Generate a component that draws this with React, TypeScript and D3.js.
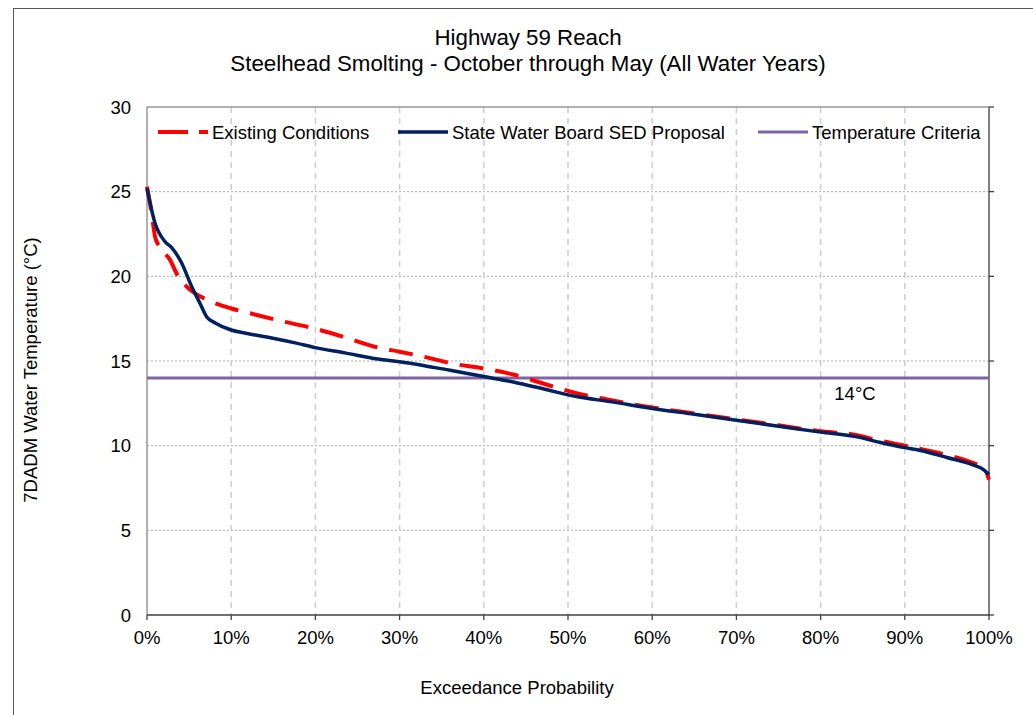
import React from "react";
import * as d3 from "d3";

const titleLines = ["Highway 59 Reach", "Steelhead Smolting - October through May (All Water Years)"];
const xTicks = [0, 10, 20, 30, 40, 50, 60, 70, 80, 90, 100];
const yTicks = [0, 5, 10, 15, 20, 25, 30];
const criteria = 14;

const sedX = [0, 0.95, 2.14, 2.93, 4.1, 5.3, 6.3, 7.1, 8.1, 10, 11.6, 14.8, 17.6, 20, 23.5, 27.4, 30, 32.8, 36, 40, 43.5, 47.5, 51, 55, 60, 65, 70, 75, 80, 84, 87, 89.8, 92, 95, 98.1, 99.3, 100];
const sedY = [25.2, 23.15, 22.05, 21.7, 20.8, 19.4, 18.4, 17.6, 17.25, 16.83, 16.65, 16.36, 16.07, 15.79, 15.48, 15.12, 14.96, 14.74, 14.45, 14.08, 13.76, 13.3, 12.9, 12.6, 12.2, 11.85, 11.5, 11.15, 10.8, 10.55, 10.2, 9.9, 9.7, 9.3, 8.86, 8.6, 8.3];

const exX = [0, 0.56, 0.95, 1.54, 2.7, 3.7, 4.9, 7.2, 10, 11.6, 15.6, 20, 23.5, 27.4, 30, 32.8, 36.8, 39.5, 43.5, 47.5, 51, 55, 60, 65, 70, 75, 80, 84, 87, 90, 95, 98, 99.5, 100];
const exY = [25.3, 23.7, 22.35, 21.7, 21.0, 20.0, 19.3, 18.6, 18.1, 17.9, 17.4, 16.9, 16.4, 15.8, 15.55, 15.26, 14.8, 14.6, 14.2, 13.6, 13.1, 12.7, 12.25, 11.9, 11.55, 11.2, 10.85, 10.65, 10.3, 10.0, 9.45, 9.0, 8.6, 8.0];

const legendItems = ["Existing Conditions", "State Water Board SED Proposal", "Temperature Criteria"];

const W = 1033, H = 715;
const L = 147, R = 989, T = 107, B = 615;
const FONT = "'Liberation Sans', Arial, sans-serif";
const FS = 18.5;

export default function App() {
  const x = d3.scaleLinear().domain([0, 100]).range([L, R]);
  const y = d3.scaleLinear().domain([0, 30]).range([B, T]);
  const line = d3.line<[number, number]>().x(d => x(d[0])).y(d => y(d[1])).curve(d3.curveMonotoneX);
  const sed: [number, number][] = sedX.map((v, i) => [v, sedY[i]]);
  const ex: [number, number][] = exX.map((v, i) => [v, exY[i]]);

  const legendX = [158, 398, 758];
  const legendY = 132;

  return (
    <svg width={W} height={H} style={{ position: "absolute", left: 0, top: 0 }} fontFamily={FONT}>
      <rect x={0} y={0} width={W} height={H} fill="#fff" />
      <rect x={13.5} y={8.5} width={W + 20} height={H + 20} fill="none" stroke="#595959" strokeWidth={1} />
      {titleLines.map((t, i) => (
        <text key={i} x={528} y={45 + i * 26} textAnchor="middle" fontSize={22.3} fill="#000">{t}</text>
      ))}
      {/* gridlines */}
      {yTicks.filter(v => v > 0 && v < 30).map(v => (
        <line key={"gy" + v} x1={L} x2={R} y1={y(v)} y2={y(v)} stroke="#a6a6a6" strokeWidth={1} strokeDasharray="2,2" />
      ))}
      {xTicks.filter(v => v > 0 && v < 100).map(v => (
        <line key={"gx" + v} x1={x(v)} x2={x(v)} y1={T} y2={B} stroke="#cfcfcf" strokeWidth={1.6} strokeDasharray="6,5" />
      ))}
      {/* frame */}
      <line x1={L} x2={R} y1={T} y2={T} stroke="#969696" strokeWidth={1.3} />
      <line x1={R} x2={R} y1={T} y2={B} stroke="#808080" strokeWidth={2} />
      <line x1={L} x2={L} y1={T} y2={B} stroke="#969696" strokeWidth={1.5} />
      {yTicks.map(v => (
        <line key={"rt" + v} x1={R} x2={R + 5} y1={y(v)} y2={y(v)} stroke="#404040" strokeWidth={1.3} />
      ))}
      <line x1={L} x2={R} y1={B} y2={B} stroke="#404040" strokeWidth={1.5} />
      {xTicks.map(v => (
        <line key={"bt" + v} x1={x(v)} x2={x(v)} y1={B} y2={B + 5} stroke="#404040" strokeWidth={1.3} />
      ))}
      {/* tick labels */}
      {yTicks.map(v => (
        <text key={"yl" + v} x={131} y={y(v) + 6.5} textAnchor="end" fontSize={FS} fill="#000">{v}</text>
      ))}
      {xTicks.map(v => (
        <text key={"xl" + v} x={x(v)} y={644} textAnchor="middle" fontSize={FS} fill="#000">{v + "%"}</text>
      ))}
      <text x={517} y={694} textAnchor="middle" fontSize={FS} fill="#000">Exceedance Probability</text>
      <text transform={`translate(37,${370}) rotate(-90)`} textAnchor="middle" fontSize={FS} fill="#000">7DADM Water Temperature (°C)</text>
      {/* criteria */}
      <line x1={L} x2={R} y1={y(criteria)} y2={y(criteria)} stroke="#8064A2" strokeWidth={3} />
      <text x={855} y={400} textAnchor="middle" fontSize={FS} fill="#000">{criteria + "°C"}</text>
      {/* series */}
      <path d={line(ex) || ""} fill="none" stroke="#FF0000" strokeWidth={4} strokeDasharray="24,12" />
      <path d={line(sed) || ""} fill="none" stroke="#002060" strokeWidth={3.5} strokeLinejoin="round" />
      {/* legend */}
      <line x1={legendX[0]} x2={legendX[0] + 50} y1={legendY} y2={legendY} stroke="#FF0000" strokeWidth={4} strokeDasharray="30,11" />
      <line x1={legendX[1]} x2={legendX[1] + 50} y1={legendY} y2={legendY} stroke="#002060" strokeWidth={3.5} />
      <line x1={legendX[2]} x2={legendX[2] + 50} y1={legendY} y2={legendY} stroke="#8064A2" strokeWidth={3} />
      {legendItems.map((t, i) => (
        <text key={t} x={legendX[i] + 54} y={legendY + 6.5} fontSize={FS} fill="#000">{t}</text>
      ))}
    </svg>
  );
}
